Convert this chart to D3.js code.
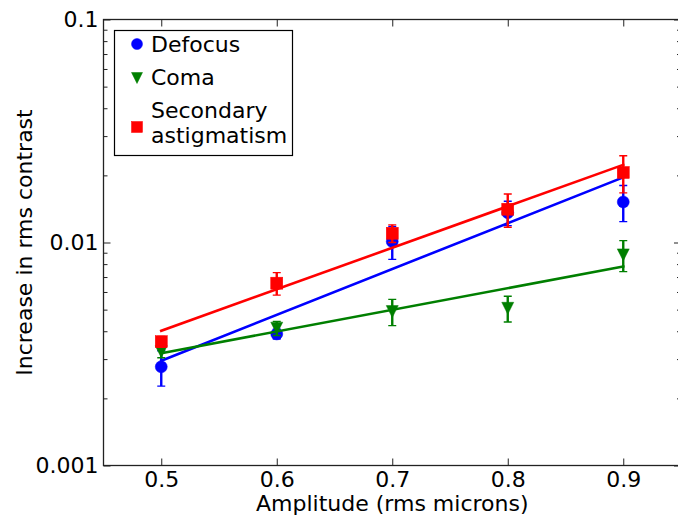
<!DOCTYPE html>
<html>
<head>
<meta charset="utf-8">
<script src="https://cdn.jsdelivr.net/npm/d3@7/dist/d3.min.js"></script>
<style>
  html, body { margin: 0; padding: 0; background: #fff; }
  svg { display: block; font-family: "DejaVu Sans", sans-serif; }
</style>
</head>
<body>
<svg id="chart" width="678" height="516"></svg>
<script>
// Amplitude of each aberration (rms microns)
const amplitude = [0.5, 0.6, 0.7, 0.8, 0.9];

// Measured increase in rms contrast, with symmetric error bars
const defocus      = [0.00277, 0.00389, 0.0101, 0.0136, 0.0152];
const defocusErr   = [0.0005, 0.0002, 0.0017, 0.0017, 0.0028];
const coma         = [0.00324, 0.00413, 0.0049, 0.00507, 0.0088];
const comaErr      = [0.0002, 0.0003, 0.00066, 0.00067, 0.0014];
const secondary    = [0.00359, 0.00657, 0.0110, 0.0141, 0.0206];
const secondaryErr = [0.0002, 0.00076, 0.0010, 0.0024, 0.0039];

// Exponential fits, given as values at the two ends of the fitted range
const fitRange     = [0.5, 0.9];
const defocusFit   = [0.00295, 0.0196];
const comaFit      = [0.00319, 0.0078];
const secondaryFit = [0.00402, 0.0223];

// Axis ticks
const xTicks = [0.5, 0.6, 0.7, 0.8, 0.9];
const xTickLabels = ["0.5", "0.6", "0.7", "0.8", "0.9"];
const yTicks = [0.001, 0.01, 0.1];
const yTickLabels = ["0.001", "0.01", "0.1"];

const seriesNames = ["Defocus", "Coma", "Secondary\nastigmatism"];

const svg = d3.select("#chart");
const plotLeft = 103.5, plotRight = 681, plotTop = 19.5, plotBottom = 465.5;
const fontSize = "22px";

const x = d3.scaleLinear().domain([0.45, 0.95]).range([plotLeft, plotRight]);
const y = d3.scaleLog().domain([0.001, 0.1]).range([plotBottom, plotTop]);

const series = [
  { name: seriesNames[0], values: defocus, err: defocusErr, fit: defocusFit, color: "#0000ff", marker: "circle" },
  { name: seriesNames[1], values: coma, err: comaErr, fit: comaFit, color: "#007f00", marker: "tri" },
  { name: seriesNames[2], values: secondary, err: secondaryErr, fit: secondaryFit, color: "#ff0000", marker: "square" }
];

function drawMarker(g, type, cx, cy, s, color) {
  if (type === "circle") {
    g.append("circle").attr("cx", cx).attr("cy", cy).attr("r", s)
      .attr("fill", color).attr("stroke", color).attr("stroke-width", 0.5);
  } else if (type === "square") {
    g.append("rect").attr("x", cx - s).attr("y", cy - s)
      .attr("width", 2 * s).attr("height", 2 * s)
      .attr("fill", color).attr("stroke", color).attr("stroke-width", 0.5);
  } else {
    g.append("path")
      .attr("d", `M${cx - s},${cy - s}L${cx + s},${cy - s}L${cx},${cy + s}Z`)
      .attr("fill", color).attr("stroke", color).attr("stroke-width", 0.5);
  }
}

// Plot area contents
svg.append("clipPath").attr("id", "plotClip")
  .append("rect").attr("x", plotLeft).attr("y", plotTop)
  .attr("width", plotRight - plotLeft).attr("height", plotBottom - plotTop);

const plot = svg.append("g").attr("clip-path", "url(#plotClip)");

series.forEach(s => {
  const g = plot.append("g");
  amplitude.forEach((a, i) => {
    const v = s.values[i], e = s.err[i];
    const px = x(a);
    const y0 = y(v - e), y1 = y(v + e);
    g.append("line").attr("x1", px).attr("x2", px).attr("y1", y0).attr("y2", y1)
      .attr("stroke", s.color).attr("stroke-width", 2.4);
    [y0, y1].forEach(cy => {
      g.append("line").attr("x1", px - 4).attr("x2", px + 4).attr("y1", cy).attr("y2", cy)
        .attr("stroke", s.color).attr("stroke-width", 1.4);
    });
    drawMarker(g, s.marker, px, y(v), 6, s.color);
  });
  const line = d3.line().x(d => x(d[0])).y(d => y(d[1]));
  g.append("path")
    .attr("d", line([[fitRange[0], s.fit[0]], [fitRange[1], s.fit[1]]]))
    .attr("fill", "none").attr("stroke", s.color).attr("stroke-width", 2.6)
    .attr("stroke-linecap", "square");
});

// Frame and ticks (pointing inward on all four sides)
const axisColor = "#222";
const frame = svg.append("g");
frame.append("rect").attr("x", plotLeft).attr("y", plotTop)
  .attr("width", plotRight - plotLeft).attr("height", plotBottom - plotTop)
  .attr("fill", "none").attr("stroke", axisColor).attr("stroke-width", 1.3);

const xAxisBottom = d3.axisBottom(x).tickValues(xTicks).tickSizeInner(-7).tickSizeOuter(0)
  .tickFormat((d, i) => xTickLabels[i]).tickPadding(6);
const gxb = svg.append("g").attr("transform", `translate(0,${plotBottom})`).call(xAxisBottom);
gxb.select(".domain").remove();

const xAxisTop = d3.axisTop(x).tickValues(xTicks).tickSizeInner(-7).tickSizeOuter(0).tickFormat("");
const gxt = svg.append("g").attr("transform", `translate(0,${plotTop})`).call(xAxisTop);
gxt.select(".domain").remove();

const minorY = [];
[0.001, 0.01].forEach(dec => { for (let k = 2; k <= 9; k++) minorY.push(dec * k); });

const yAxisLeft = d3.axisLeft(y).tickValues(yTicks).tickSizeInner(-7).tickSizeOuter(0)
  .tickFormat((d, i) => yTickLabels[i]).tickPadding(5);
const gyl = svg.append("g").attr("transform", `translate(${plotLeft},0)`).call(yAxisLeft);
gyl.select(".domain").remove();
const gylm = svg.append("g").attr("transform", `translate(${plotLeft},0)`)
  .call(d3.axisLeft(y).tickValues(minorY).tickSizeInner(-4).tickSizeOuter(0).tickFormat(""));
gylm.select(".domain").remove();

const gyr = svg.append("g").attr("transform", `translate(${plotRight},0)`)
  .call(d3.axisRight(y).tickValues(yTicks).tickSizeInner(-7).tickSizeOuter(0).tickFormat(""));
gyr.select(".domain").remove();
const gyrm = svg.append("g").attr("transform", `translate(${plotRight},0)`)
  .call(d3.axisRight(y).tickValues(minorY).tickSizeInner(-4).tickSizeOuter(0).tickFormat(""));
gyrm.select(".domain").remove();

svg.selectAll(".tick line").attr("stroke", axisColor).attr("stroke-width", 1);
svg.selectAll(".tick text").attr("fill", "#000").style("font-size", fontSize)
  .style("font-family", "DejaVu Sans, sans-serif");
gxb.selectAll(".tick text").attr("dy", "0.71em");

// Axis titles
svg.append("text").attr("x", (plotLeft + plotRight) / 2).attr("y", 511)
  .attr("text-anchor", "middle").style("font-size", fontSize).text("Amplitude (rms microns)");
svg.append("text").attr("transform", `translate(32,${(plotTop + plotBottom) / 2}) rotate(-90)`)
  .attr("text-anchor", "middle").style("font-size", fontSize).text("Increase in rms contrast");

// Legend
const legend = svg.append("g");
legend.append("rect").attr("x", 114.5).attr("y", 30.5).attr("width", 178).attr("height", 125)
  .attr("fill", "#fff").attr("stroke", "#000").attr("stroke-width", 1.2);
const legendRows = [
  { markerY: 44, lines: [52] },
  { markerY: 78, lines: [85] },
  { markerY: 127, lines: [117.5, 142.5] }
];
series.forEach((s, i) => {
  const row = legendRows[i];
  drawMarker(legend, s.marker, 137, row.markerY, 5.5, s.color);
  s.name.split("\n").forEach((t, j) => {
    legend.append("text").attr("x", 151).attr("y", row.lines[j])
      .style("font-size", fontSize).attr("fill", "#000").text(t);
  });
});
</script>
</body>
</html>
